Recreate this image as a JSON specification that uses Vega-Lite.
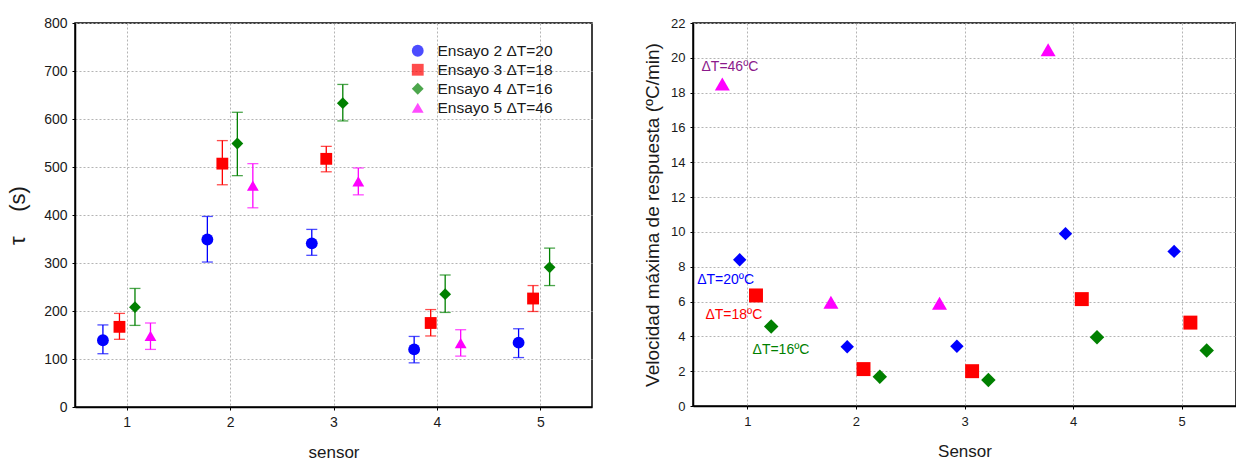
{
  "$schema": "https://vega.github.io/schema/vega-lite/v6.json",
  "background": "white",
  "padding": {"left": 5, "top": 15, "right": 0, "bottom": 0},
  "spacing": 49,
  "config": {
    "font": "Liberation Sans",
    "view": {"stroke": "black", "strokeWidth": 1.5},
    "axis": {
      "grid": true, "gridColor": "#b4b4b4", "gridDash": [2, 2], "gridWidth": 1,
      "domainColor": "black", "domainWidth": 1.5, "tickColor": "black", "tickSize": 3,
      "labelColor": "#1a1a1a", "titleColor": "#1a1a1a", "labelOverlap": false,
      "labelFont": "Liberation Sans", "titleFont": "Liberation Sans", "titleFontWeight": "normal"
    }
  },
  "datasets": {
    "tau": [
      {"ensayo": "Ensayo 2 ΔT=20", "sensor": 1, "x": 0.77, "tau": 139, "lo": 111, "hi": 171},
      {"ensayo": "Ensayo 2 ΔT=20", "sensor": 2, "x": 1.78, "tau": 349, "lo": 302, "hi": 397},
      {"ensayo": "Ensayo 2 ΔT=20", "sensor": 3, "x": 2.79, "tau": 341, "lo": 316, "hi": 370},
      {"ensayo": "Ensayo 2 ΔT=20", "sensor": 4, "x": 3.78, "tau": 120, "lo": 92, "hi": 147},
      {"ensayo": "Ensayo 2 ΔT=20", "sensor": 5, "x": 4.79, "tau": 134, "lo": 103, "hi": 163},
      {"ensayo": "Ensayo 3 ΔT=18", "sensor": 1, "x": 0.93, "tau": 167, "lo": 141, "hi": 195},
      {"ensayo": "Ensayo 3 ΔT=18", "sensor": 2, "x": 1.925, "tau": 507, "lo": 463, "hi": 555},
      {"ensayo": "Ensayo 3 ΔT=18", "sensor": 3, "x": 2.93, "tau": 517, "lo": 490, "hi": 543},
      {"ensayo": "Ensayo 3 ΔT=18", "sensor": 4, "x": 3.94, "tau": 175, "lo": 148, "hi": 203},
      {"ensayo": "Ensayo 3 ΔT=18", "sensor": 5, "x": 4.93, "tau": 226, "lo": 199, "hi": 253},
      {"ensayo": "Ensayo 4 ΔT=16", "sensor": 1, "x": 1.08, "tau": 208, "lo": 170, "hi": 247},
      {"ensayo": "Ensayo 4 ΔT=16", "sensor": 2, "x": 2.07, "tau": 549, "lo": 482, "hi": 614},
      {"ensayo": "Ensayo 4 ΔT=16", "sensor": 3, "x": 3.09, "tau": 633, "lo": 596, "hi": 672},
      {"ensayo": "Ensayo 4 ΔT=16", "sensor": 4, "x": 4.08, "tau": 235, "lo": 197, "hi": 275},
      {"ensayo": "Ensayo 4 ΔT=16", "sensor": 5, "x": 5.09, "tau": 291, "lo": 253, "hi": 331},
      {"ensayo": "Ensayo 5 ΔT=46", "sensor": 1, "x": 1.23, "tau": 148, "lo": 120, "hi": 175},
      {"ensayo": "Ensayo 5 ΔT=46", "sensor": 2, "x": 2.22, "tau": 461, "lo": 415, "hi": 507},
      {"ensayo": "Ensayo 5 ΔT=46", "sensor": 3, "x": 3.24, "tau": 470, "lo": 442, "hi": 498},
      {"ensayo": "Ensayo 5 ΔT=46", "sensor": 4, "x": 4.23, "tau": 133, "lo": 106, "hi": 161}
    ],
    "vel": [
      {"ensayo": "Ensayo 2", "sensor": 1, "x": 0.93, "v": 8.4},
      {"ensayo": "Ensayo 2", "sensor": 2, "x": 1.92, "v": 3.4},
      {"ensayo": "Ensayo 2", "sensor": 3, "x": 2.93, "v": 3.43},
      {"ensayo": "Ensayo 2", "sensor": 4, "x": 3.93, "v": 9.9},
      {"ensayo": "Ensayo 2", "sensor": 5, "x": 4.93, "v": 8.88},
      {"ensayo": "Ensayo 3", "sensor": 1, "x": 1.08, "v": 6.35},
      {"ensayo": "Ensayo 3", "sensor": 2, "x": 2.07, "v": 2.12},
      {"ensayo": "Ensayo 3", "sensor": 3, "x": 3.07, "v": 2.0},
      {"ensayo": "Ensayo 3", "sensor": 4, "x": 4.08, "v": 6.14},
      {"ensayo": "Ensayo 3", "sensor": 5, "x": 5.08, "v": 4.79},
      {"ensayo": "Ensayo 4", "sensor": 1, "x": 1.22, "v": 4.56},
      {"ensayo": "Ensayo 4", "sensor": 2, "x": 2.22, "v": 1.68},
      {"ensayo": "Ensayo 4", "sensor": 3, "x": 3.22, "v": 1.49},
      {"ensayo": "Ensayo 4", "sensor": 4, "x": 4.22, "v": 3.95},
      {"ensayo": "Ensayo 4", "sensor": 5, "x": 5.23, "v": 3.19},
      {"ensayo": "Ensayo 5", "sensor": 1, "x": 0.77, "v": 18.49},
      {"ensayo": "Ensayo 5", "sensor": 2, "x": 1.77, "v": 5.96},
      {"ensayo": "Ensayo 5", "sensor": 3, "x": 2.77, "v": 5.9},
      {"ensayo": "Ensayo 5", "sensor": 4, "x": 3.77, "v": 20.46}
    ],
    "notes": [
      {"label": "ΔT=46ºC", "x": 0.84, "v": 19.5},
      {"label": "ΔT=20ºC", "x": 0.8, "v": 7.26},
      {"label": "ΔT=18ºC", "x": 0.876, "v": 5.21},
      {"label": "ΔT=16ºC", "x": 1.31, "v": 3.24}
    ]
  },
  "resolve": {"scale": {"x": "independent", "y": "independent", "color": "independent", "shape": "independent"}, "legend": {"color": "independent", "shape": "independent"}},
  "hconcat": [
    {
      "width": 517,
      "height": 384,
      "data": {"name": "tau"},
      "encoding": {
        "x": {"field": "x", "type": "quantitative", "scale": {"domain": [0.5, 5.5], "nice": false, "zero": false},
          "axis": {"values": [1, 2, 3, 4, 5], "format": "d", "title": "sensor", "titleFontSize": 17, "labelFontSize": 14, "labelPadding": 5, "titlePadding": 15}},
        "color": {"field": "ensayo", "type": "nominal",
          "scale": {"domain": ["Ensayo 2 ΔT=20", "Ensayo 3 ΔT=18", "Ensayo 4 ΔT=16", "Ensayo 5 ΔT=46"], "range": ["#0000ff", "#ff0000", "#008000", "#ff00ff"]},
          "legend": {"orient": "none", "legendX": 335, "legendY": 20, "title": null, "padding": 0, "labelFontSize": 15.5, "labelColor": "#1a1a1a", "labelOffset": 12, "rowPadding": 2, "symbolSize": 140, "symbolStrokeWidth": 0}}
      },
      "layer": [
        {"mark": {"type": "rule", "strokeWidth": 1.3},
         "encoding": {"y": {"field": "lo", "type": "quantitative"}, "y2": {"field": "hi"}}},
        {"mark": {"type": "tick", "orient": "horizontal", "size": 11, "thickness": 1.3},
         "encoding": {"y": {"field": "lo", "type": "quantitative"}}},
        {"mark": {"type": "tick", "orient": "horizontal", "size": 11, "thickness": 1.3},
         "encoding": {"y": {"field": "hi", "type": "quantitative"}}},
        {"mark": {"type": "point", "filled": true, "opacity": 1, "size": 140},
         "encoding": {
           "y": {"field": "tau", "type": "quantitative", "scale": {"domain": [0, 800], "nice": false},
             "axis": {"values": [0, 100, 200, 300, 400, 500, 600, 700, 800], "title": "τ\u00a0\u00a0\u00a0\u00a0(s)", "titleFontSize": 22, "labelFontSize": 14, "labelPadding": 5, "titlePadding": 14}},
           "shape": {"field": "ensayo", "type": "nominal",
             "scale": {"domain": ["Ensayo 2 ΔT=20", "Ensayo 3 ΔT=18", "Ensayo 4 ΔT=16", "Ensayo 5 ΔT=46"], "range": ["circle", "square", "diamond", "triangle-up"]}}
         }}
      ]
    },
    {
      "width": 543,
      "height": 383,
      "encoding": {
        "x": {"field": "x", "type": "quantitative", "scale": {"domain": [0.5, 5.5], "nice": false, "zero": false},
          "axis": {"values": [1, 2, 3, 4, 5], "format": "d", "title": "Sensor", "titleFontSize": 17, "labelFontSize": 13, "labelPadding": 6, "titlePadding": 15}},
        "y": {"field": "v", "type": "quantitative", "scale": {"domain": [0, 22], "nice": false},
          "axis": {"values": [0, 2, 4, 6, 8, 10, 12, 14, 16, 18, 20, 22], "title": "Velocidad máxima de respuesta (ºC/min)", "titleFontSize": 19, "labelFontSize": 13, "labelPadding": 5, "titlePadding": 8}}
      },
      "layer": [
        {
          "data": {"name": "vel"},
          "mark": {"type": "point", "filled": true, "opacity": 1},
          "encoding": {
            "color": {"field": "ensayo", "type": "nominal", "legend": null,
              "scale": {"domain": ["Ensayo 2", "Ensayo 3", "Ensayo 4", "Ensayo 5"], "range": ["#0000ff", "#ff0000", "#008000", "#ff00ff"]}},
            "shape": {"field": "ensayo", "type": "nominal", "legend": null,
              "scale": {"domain": ["Ensayo 2", "Ensayo 3", "Ensayo 4", "Ensayo 5"], "range": ["diamond", "square", "diamond", "triangle-up"]}},
            "size": {"field": "ensayo", "type": "nominal", "legend": null,
              "scale": {"domain": ["Ensayo 2", "Ensayo 3", "Ensayo 4", "Ensayo 5"], "range": [180, 225, 180, 190]}}
          }
        },
        {
          "data": {"name": "notes"},
          "mark": {"type": "text", "fontSize": 14, "font": "Liberation Sans"},
          "encoding": {
            "text": {"field": "label"},
            "color": {"field": "label", "type": "nominal", "legend": null,
              "scale": {"domain": ["ΔT=46ºC", "ΔT=20ºC", "ΔT=18ºC", "ΔT=16ºC"], "range": ["#8b1a8b", "#0000ff", "#ff0000", "#008000"]}}
          }
        }
      ],
      "resolve": {"scale": {"color": "independent"}}
    }
  ]
}
